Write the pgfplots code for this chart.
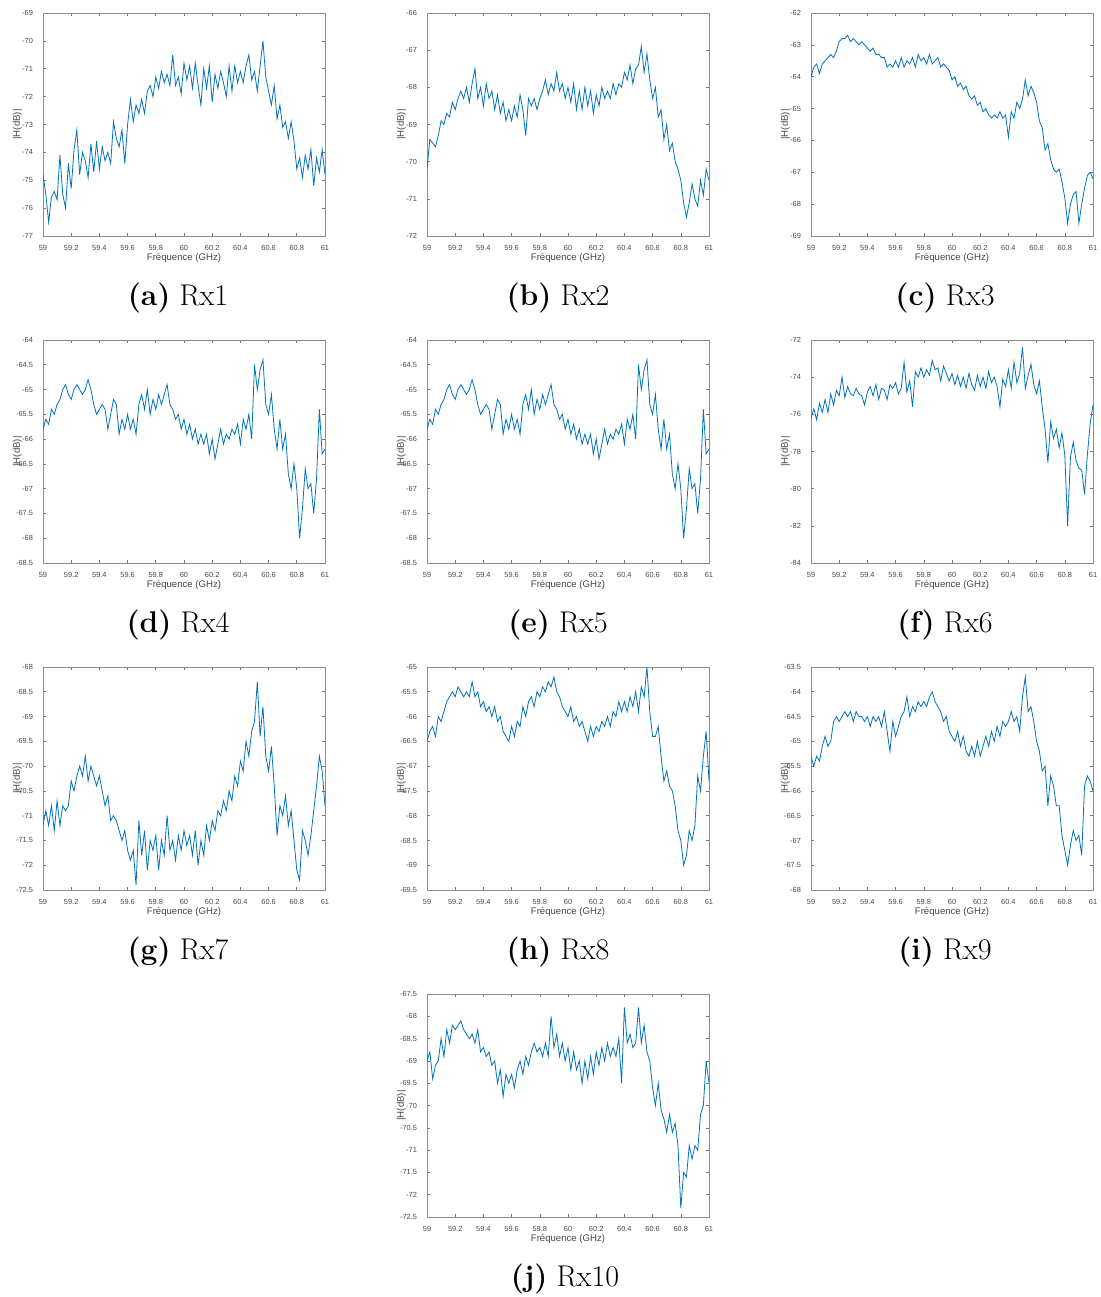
\documentclass[border=0pt]{standalone}
\usepackage{fontspec}
\usepackage{pgfplots}
\pgfplotsset{compat=1.18}
\usepackage{pgfplotstable}
\newfontfamily\arial{Liberation Sans}
\definecolor{mblue}{RGB}{0,114,189}
\definecolor{mtext}{RGB}{70,70,70}

% columns: frequency, then Rx1, Rx2, Rx3, Rx4 (= Rx5), Rx6 ... Rx10
\pgfplotstableread{
x a b c d f g h i j
59.00 -74.8 -70.2 -64.0 -65.8 -76.2 -71.2 -66.5 -65.3 -69.0
59.02 -75.5 -69.4 -63.7 -65.6 -75.7 -70.9 -66.3 -65.5 -68.8
59.04 -76.5 -69.5 -63.6 -65.7 -76.3 -71.2 -66.2 -65.3 -69.4
59.06 -75.6 -69.6 -63.9 -65.4 -75.4 -70.8 -66.4 -65.4 -69.1
59.08 -75.4 -69.3 -63.6 -65.5 -75.9 -71.3 -66.0 -65.1 -69.0
59.10 -75.7 -68.9 -63.5 -65.3 -75.2 -70.7 -66.1 -64.9 -68.5
59.12 -74.1 -69.0 -63.4 -65.2 -75.9 -71.2 -65.9 -65.1 -68.9
59.14 -75.5 -68.7 -63.3 -65.0 -74.9 -70.8 -65.7 -65.0 -68.3
59.16 -76.0 -68.8 -63.4 -64.9 -75.5 -70.9 -65.6 -64.6 -68.6
59.18 -74.4 -68.4 -63.2 -65.1 -74.7 -70.8 -65.5 -64.5 -68.2
59.20 -75.3 -68.6 -62.9 -65.2 -75.0 -70.3 -65.6 -64.6 -68.3
59.22 -73.9 -68.3 -62.8 -65.0 -74.0 -70.5 -65.4 -64.5 -68.2
59.24 -73.2 -68.1 -62.8 -64.9 -75.1 -70.2 -65.5 -64.4 -68.1
59.26 -74.8 -68.3 -62.7 -65.0 -74.5 -70.0 -65.6 -64.5 -68.3
59.28 -74.0 -68.0 -62.9 -65.1 -74.9 -70.2 -65.5 -64.4 -68.4
59.30 -74.3 -68.4 -62.8 -65.0 -75.0 -69.8 -65.6 -64.6 -68.5
59.32 -74.9 -67.9 -62.9 -64.8 -74.6 -70.3 -65.3 -64.4 -68.4
59.34 -73.7 -67.5 -63.0 -65.0 -74.9 -70.0 -65.6 -64.5 -68.6
59.36 -74.7 -68.3 -62.9 -65.3 -75.0 -70.2 -65.5 -64.5 -68.3
59.38 -73.6 -68.0 -63.0 -65.5 -75.5 -70.4 -65.8 -64.6 -68.8
59.40 -74.6 -68.5 -63.1 -65.4 -74.8 -70.2 -65.7 -64.5 -68.7
59.42 -73.8 -67.9 -63.2 -65.3 -74.5 -70.5 -65.9 -64.7 -68.9
59.44 -74.3 -68.3 -63.1 -65.4 -75.0 -70.8 -65.8 -64.5 -68.8
59.46 -74.0 -68.1 -63.3 -65.8 -74.4 -70.6 -66.0 -64.6 -69.1
59.48 -74.4 -68.6 -63.3 -65.5 -75.2 -71.1 -65.8 -64.5 -69.0
59.50 -72.9 -68.2 -63.4 -65.2 -74.6 -71.0 -66.1 -64.7 -69.5
59.52 -73.5 -68.7 -63.4 -65.3 -74.7 -71.1 -66.0 -64.4 -69.2
59.54 -73.8 -68.4 -63.7 -65.9 -75.2 -71.3 -66.3 -64.8 -69.8
59.56 -73.2 -68.9 -63.6 -65.6 -74.4 -71.5 -66.4 -65.2 -69.3
59.58 -74.4 -68.6 -63.7 -65.8 -74.6 -71.3 -66.5 -64.6 -69.5
59.60 -73.0 -68.9 -63.5 -65.5 -74.3 -71.7 -66.2 -64.9 -69.3
59.62 -72.1 -68.5 -63.7 -65.8 -74.9 -71.9 -66.4 -64.7 -69.6
59.64 -72.9 -68.8 -63.4 -65.6 -74.6 -71.7 -66.1 -64.5 -69.2
59.66 -72.3 -68.2 -63.7 -65.9 -73.2 -72.4 -66.2 -64.4 -69.0
59.68 -72.6 -68.6 -63.5 -65.3 -74.8 -71.1 -65.8 -64.1 -69.3
59.70 -72.1 -69.3 -63.6 -65.1 -74.2 -71.8 -66.0 -64.5 -68.9
59.72 -72.6 -68.3 -63.4 -65.4 -75.6 -71.3 -65.7 -64.3 -69.1
59.74 -71.8 -68.5 -63.7 -65.0 -73.7 -72.1 -65.6 -64.4 -68.8
59.76 -71.6 -68.3 -63.3 -65.5 -74.0 -71.5 -65.8 -64.2 -68.6
59.78 -72.0 -68.6 -63.5 -65.2 -73.5 -71.7 -65.5 -64.3 -68.8
59.80 -71.3 -68.3 -63.4 -65.4 -74.0 -71.4 -65.6 -64.2 -68.7
59.82 -71.7 -68.1 -63.6 -65.1 -73.6 -72.1 -65.4 -64.3 -68.9
59.84 -71.1 -67.8 -63.3 -65.3 -73.9 -71.5 -65.5 -64.1 -68.6
59.86 -71.5 -68.2 -63.6 -65.1 -73.1 -71.8 -65.3 -64.0 -68.9
59.88 -71.2 -67.9 -63.5 -64.9 -73.6 -71.0 -65.4 -64.2 -68.0
59.90 -71.6 -68.1 -63.4 -65.3 -73.5 -71.7 -65.2 -64.3 -68.7
59.92 -70.5 -67.6 -63.7 -65.4 -74.2 -71.5 -65.5 -64.4 -68.4
59.94 -71.6 -68.1 -63.6 -65.6 -73.4 -71.9 -65.6 -64.6 -68.9
59.96 -71.3 -67.9 -63.7 -65.5 -73.8 -71.4 -65.8 -64.5 -68.6
59.98 -71.9 -68.3 -63.8 -65.8 -74.2 -71.7 -65.9 -64.8 -69.0
60.00 -70.8 -68.0 -64.1 -65.6 -73.8 -71.3 -66.0 -64.9 -68.7
60.02 -71.4 -68.4 -64.0 -65.9 -74.4 -71.6 -65.8 -65.0 -69.2
60.04 -70.9 -67.9 -64.3 -65.7 -73.9 -71.4 -66.1 -64.8 -68.8
60.06 -71.7 -68.6 -64.2 -66.0 -74.5 -71.8 -66.0 -65.1 -69.2
60.08 -70.8 -68.1 -64.4 -65.8 -74.0 -71.3 -66.2 -64.9 -69.0
60.10 -71.6 -68.6 -64.3 -66.1 -74.6 -72.0 -66.1 -65.2 -69.5
60.12 -72.3 -68.0 -64.6 -65.9 -73.8 -71.5 -66.3 -65.3 -69.0
60.14 -71.0 -68.5 -64.7 -66.1 -74.4 -71.8 -66.5 -65.1 -69.4
60.16 -71.7 -68.1 -64.6 -65.9 -74.7 -71.2 -66.2 -65.3 -68.9
60.18 -70.9 -68.7 -64.9 -66.3 -73.9 -71.5 -66.4 -65.0 -69.3
60.20 -72.2 -68.2 -64.8 -66.0 -74.5 -71.1 -66.2 -65.3 -68.8
60.22 -71.2 -68.5 -65.1 -66.4 -74.0 -71.3 -66.3 -65.1 -69.1
60.24 -71.7 -68.0 -65.0 -66.1 -74.6 -70.9 -66.1 -64.9 -68.7
60.26 -71.1 -68.3 -65.2 -65.8 -73.7 -71.0 -66.2 -65.1 -69.0
60.28 -71.5 -68.1 -65.3 -66.1 -74.3 -70.7 -66.0 -64.8 -68.6
60.30 -72.0 -68.3 -65.2 -65.9 -74.0 -70.9 -66.2 -65.0 -68.9
60.32 -70.9 -67.9 -65.3 -66.0 -74.5 -70.5 -65.9 -64.7 -68.7
60.34 -71.8 -68.2 -65.1 -65.8 -75.6 -70.7 -66.0 -64.9 -68.9
60.36 -70.9 -67.9 -65.3 -65.9 -74.1 -70.2 -65.7 -64.6 -68.5
60.38 -71.5 -68.0 -65.2 -65.7 -74.5 -70.4 -65.9 -64.7 -69.5
60.40 -71.1 -67.6 -65.9 -66.1 -73.6 -69.9 -65.7 -64.6 -67.8
60.42 -71.5 -67.8 -65.1 -65.6 -74.6 -70.1 -65.9 -64.4 -68.6
60.44 -70.9 -67.4 -65.3 -65.8 -73.2 -69.5 -65.6 -64.6 -68.4
60.46 -70.5 -67.9 -64.8 -65.5 -74.3 -69.8 -65.8 -64.5 -68.7
60.48 -71.4 -67.5 -65.0 -66.0 -73.8 -69.3 -65.5 -64.8 -68.6
60.50 -71.1 -67.4 -64.7 -64.5 -72.4 -69.1 -65.9 -64.1 -67.8
60.52 -71.8 -66.9 -64.1 -65.0 -74.6 -68.3 -65.4 -63.7 -68.6
60.54 -70.9 -67.6 -64.6 -64.6 -73.9 -69.4 -65.6 -64.4 -68.2
60.56 -70.0 -67.1 -64.3 -64.4 -73.3 -68.8 -65.0 -64.3 -68.8
60.58 -71.3 -67.8 -64.5 -65.3 -74.4 -69.8 -65.9 -64.6 -69.0
60.60 -71.8 -68.3 -64.8 -65.5 -74.9 -70.1 -66.4 -65.0 -69.6
60.62 -72.3 -68.0 -65.4 -65.1 -74.2 -69.6 -66.4 -65.2 -70.0
60.64 -71.6 -68.8 -65.6 -65.8 -75.6 -70.4 -66.2 -65.6 -69.5
60.66 -72.8 -68.6 -66.3 -66.2 -76.8 -71.4 -66.8 -65.5 -70.1
60.68 -72.3 -69.4 -66.1 -65.6 -78.6 -70.8 -67.3 -66.3 -70.3
60.70 -73.1 -69.0 -66.6 -66.2 -76.4 -71.0 -67.1 -65.7 -70.6
60.72 -72.9 -69.7 -66.9 -65.9 -77.3 -70.6 -67.4 -65.9 -70.2
60.74 -73.5 -69.5 -67.0 -66.7 -76.8 -71.2 -67.5 -66.3 -70.6
60.76 -72.9 -70.0 -66.9 -67.0 -77.8 -70.9 -67.8 -66.3 -70.4
60.78 -73.6 -70.2 -67.3 -66.5 -77.0 -71.5 -68.3 -66.9 -70.9
60.80 -74.6 -70.5 -67.8 -67.0 -78.2 -72.1 -68.5 -67.2 -72.3
60.82 -74.2 -71.1 -68.6 -68.0 -82.0 -72.3 -69.0 -67.5 -71.5
60.84 -74.9 -71.5 -68.0 -67.4 -78.3 -71.3 -68.8 -67.1 -71.6
60.86 -74.1 -71.1 -67.7 -66.6 -77.5 -71.5 -68.3 -66.8 -70.9
60.88 -74.6 -70.6 -67.6 -67.0 -78.5 -71.8 -68.5 -67.0 -71.2
60.90 -73.9 -71.0 -68.6 -66.9 -78.9 -71.4 -68.2 -66.9 -70.9
60.92 -75.2 -71.2 -68.0 -67.5 -79.0 -70.9 -67.2 -67.3 -71.0
60.94 -74.2 -70.5 -67.5 -66.8 -80.3 -70.4 -67.5 -65.9 -70.2
60.96 -74.7 -70.9 -67.1 -65.4 -78.2 -69.8 -66.8 -65.7 -70.0
60.98 -73.9 -70.2 -67.0 -66.3 -76.5 -70.1 -66.3 -65.8 -69.0
61.00 -74.8 -70.5 -67.2 -66.2 -75.5 -70.8 -67.3 -66.0 -69.5
}\rxdata

\pgfplotsset{
  rx/.style={
    scale only axis, width=141pt, height=111.5pt, anchor=north west,
    xmin=59, xmax=61,
    xtick={59,59.2,59.4,59.6,59.8,60,60.2,60.4,60.6,60.8,61},
    axis line style={black!45, line width=0.35pt},
    tick style={black!55, line width=0.3pt},
    tick align=inside, major tick length=1.6pt,
    /pgf/number format/assume math mode=true,
    ticklabel style={font=\arial\fontsize{3.7}{4.2}\selectfont, text=mtext},
    xticklabel style={yshift=-1.1pt},
    yticklabel style={xshift=-1.5pt},
    xlabel={Fréquence (GHz)}, ylabel={|H(dB)|},
    every axis x label/.style={at={(axis description cs:0.5,-0.099)}, anchor=center,
      font=\arial\fontsize{4.8}{5.5}\selectfont, text=mtext},
    every axis y label/.style={at={(axis description cs:-0.091,0.5)}, rotate=90, anchor=center,
      font=\arial\fontsize{4.8}{5.5}\selectfont, text=mtext},
    cycle list={{mblue, line width=0.45pt, mark=none}},
  },
}
\tikzset{rxcap/.style={font=\fontsize{15}{18}\selectfont, anchor=center}}

\begin{document}
\begin{tikzpicture}
\path[use as bounding box] (0,0) rectangle (550.5pt,-648.5pt);

\begin{axis}[rx, at={(21.5pt,-6.5pt)}, ymin=-77, ymax=-69, ytick={-77,-76,...,-69}]
\addplot table[x=x, y=a]{\rxdata};
\end{axis}
\node[rxcap] at (89pt,-149pt) {\textbf{(a)}~Rx1};

\begin{axis}[rx, at={(213.5pt,-6.5pt)}, ymin=-72, ymax=-66, ytick={-72,-71,...,-66}]
\addplot table[x=x, y=b]{\rxdata};
\end{axis}
\node[rxcap] at (279pt,-149pt) {\textbf{(b)}~Rx2};

\begin{axis}[rx, at={(405.5pt,-6.5pt)}, ymin=-69, ymax=-62, ytick={-69,-68,...,-62}]
\addplot table[x=x, y=c]{\rxdata};
\end{axis}
\node[rxcap] at (472.5pt,-149pt) {\textbf{(c)}~Rx3};

\begin{axis}[rx, at={(21.5pt,-170pt)}, ymin=-68.5, ymax=-64, ytick={-68.5,-68,...,-64}]
\addplot table[x=x, y=d]{\rxdata};
\end{axis}
\node[rxcap] at (89pt,-312.5pt) {\textbf{(d)}~Rx4};

\begin{axis}[rx, at={(213.5pt,-170pt)}, ymin=-68.5, ymax=-64, ytick={-68.5,-68,...,-64}]
\addplot table[x=x, y=d]{\rxdata};
\end{axis}
\node[rxcap] at (279pt,-312.5pt) {\textbf{(e)}~Rx5};

\begin{axis}[rx, at={(405.5pt,-170pt)}, ymin=-84, ymax=-72, ytick={-84,-82,...,-72}]
\addplot table[x=x, y=f]{\rxdata};
\end{axis}
\node[rxcap] at (472.5pt,-312.5pt) {\textbf{(f)}~Rx6};

\begin{axis}[rx, at={(21.5pt,-333.5pt)}, ymin=-72.5, ymax=-68, ytick={-72.5,-72,...,-68}]
\addplot table[x=x, y=g]{\rxdata};
\end{axis}
\node[rxcap] at (89pt,-476pt) {\textbf{(g)}~Rx7};

\begin{axis}[rx, at={(213.5pt,-333.5pt)}, ymin=-69.5, ymax=-65, ytick={-69.5,-69,...,-65}]
\addplot table[x=x, y=h]{\rxdata};
\end{axis}
\node[rxcap] at (279pt,-476pt) {\textbf{(h)}~Rx8};

\begin{axis}[rx, at={(405.5pt,-333.5pt)}, ymin=-68, ymax=-63.5, ytick={-68,-67.5,...,-63.5}]
\addplot table[x=x, y=i]{\rxdata};
\end{axis}
\node[rxcap] at (472.5pt,-476pt) {\textbf{(i)}~Rx9};

\begin{axis}[rx, at={(213.5pt,-497pt)}, ymin=-72.5, ymax=-67.5, ytick={-72.5,-72,...,-67.5}]
\addplot table[x=x, y=j]{\rxdata};
\end{axis}
\node[rxcap] at (282.5pt,-639.5pt) {\textbf{(j)}~Rx10};

\end{tikzpicture}
\end{document}
